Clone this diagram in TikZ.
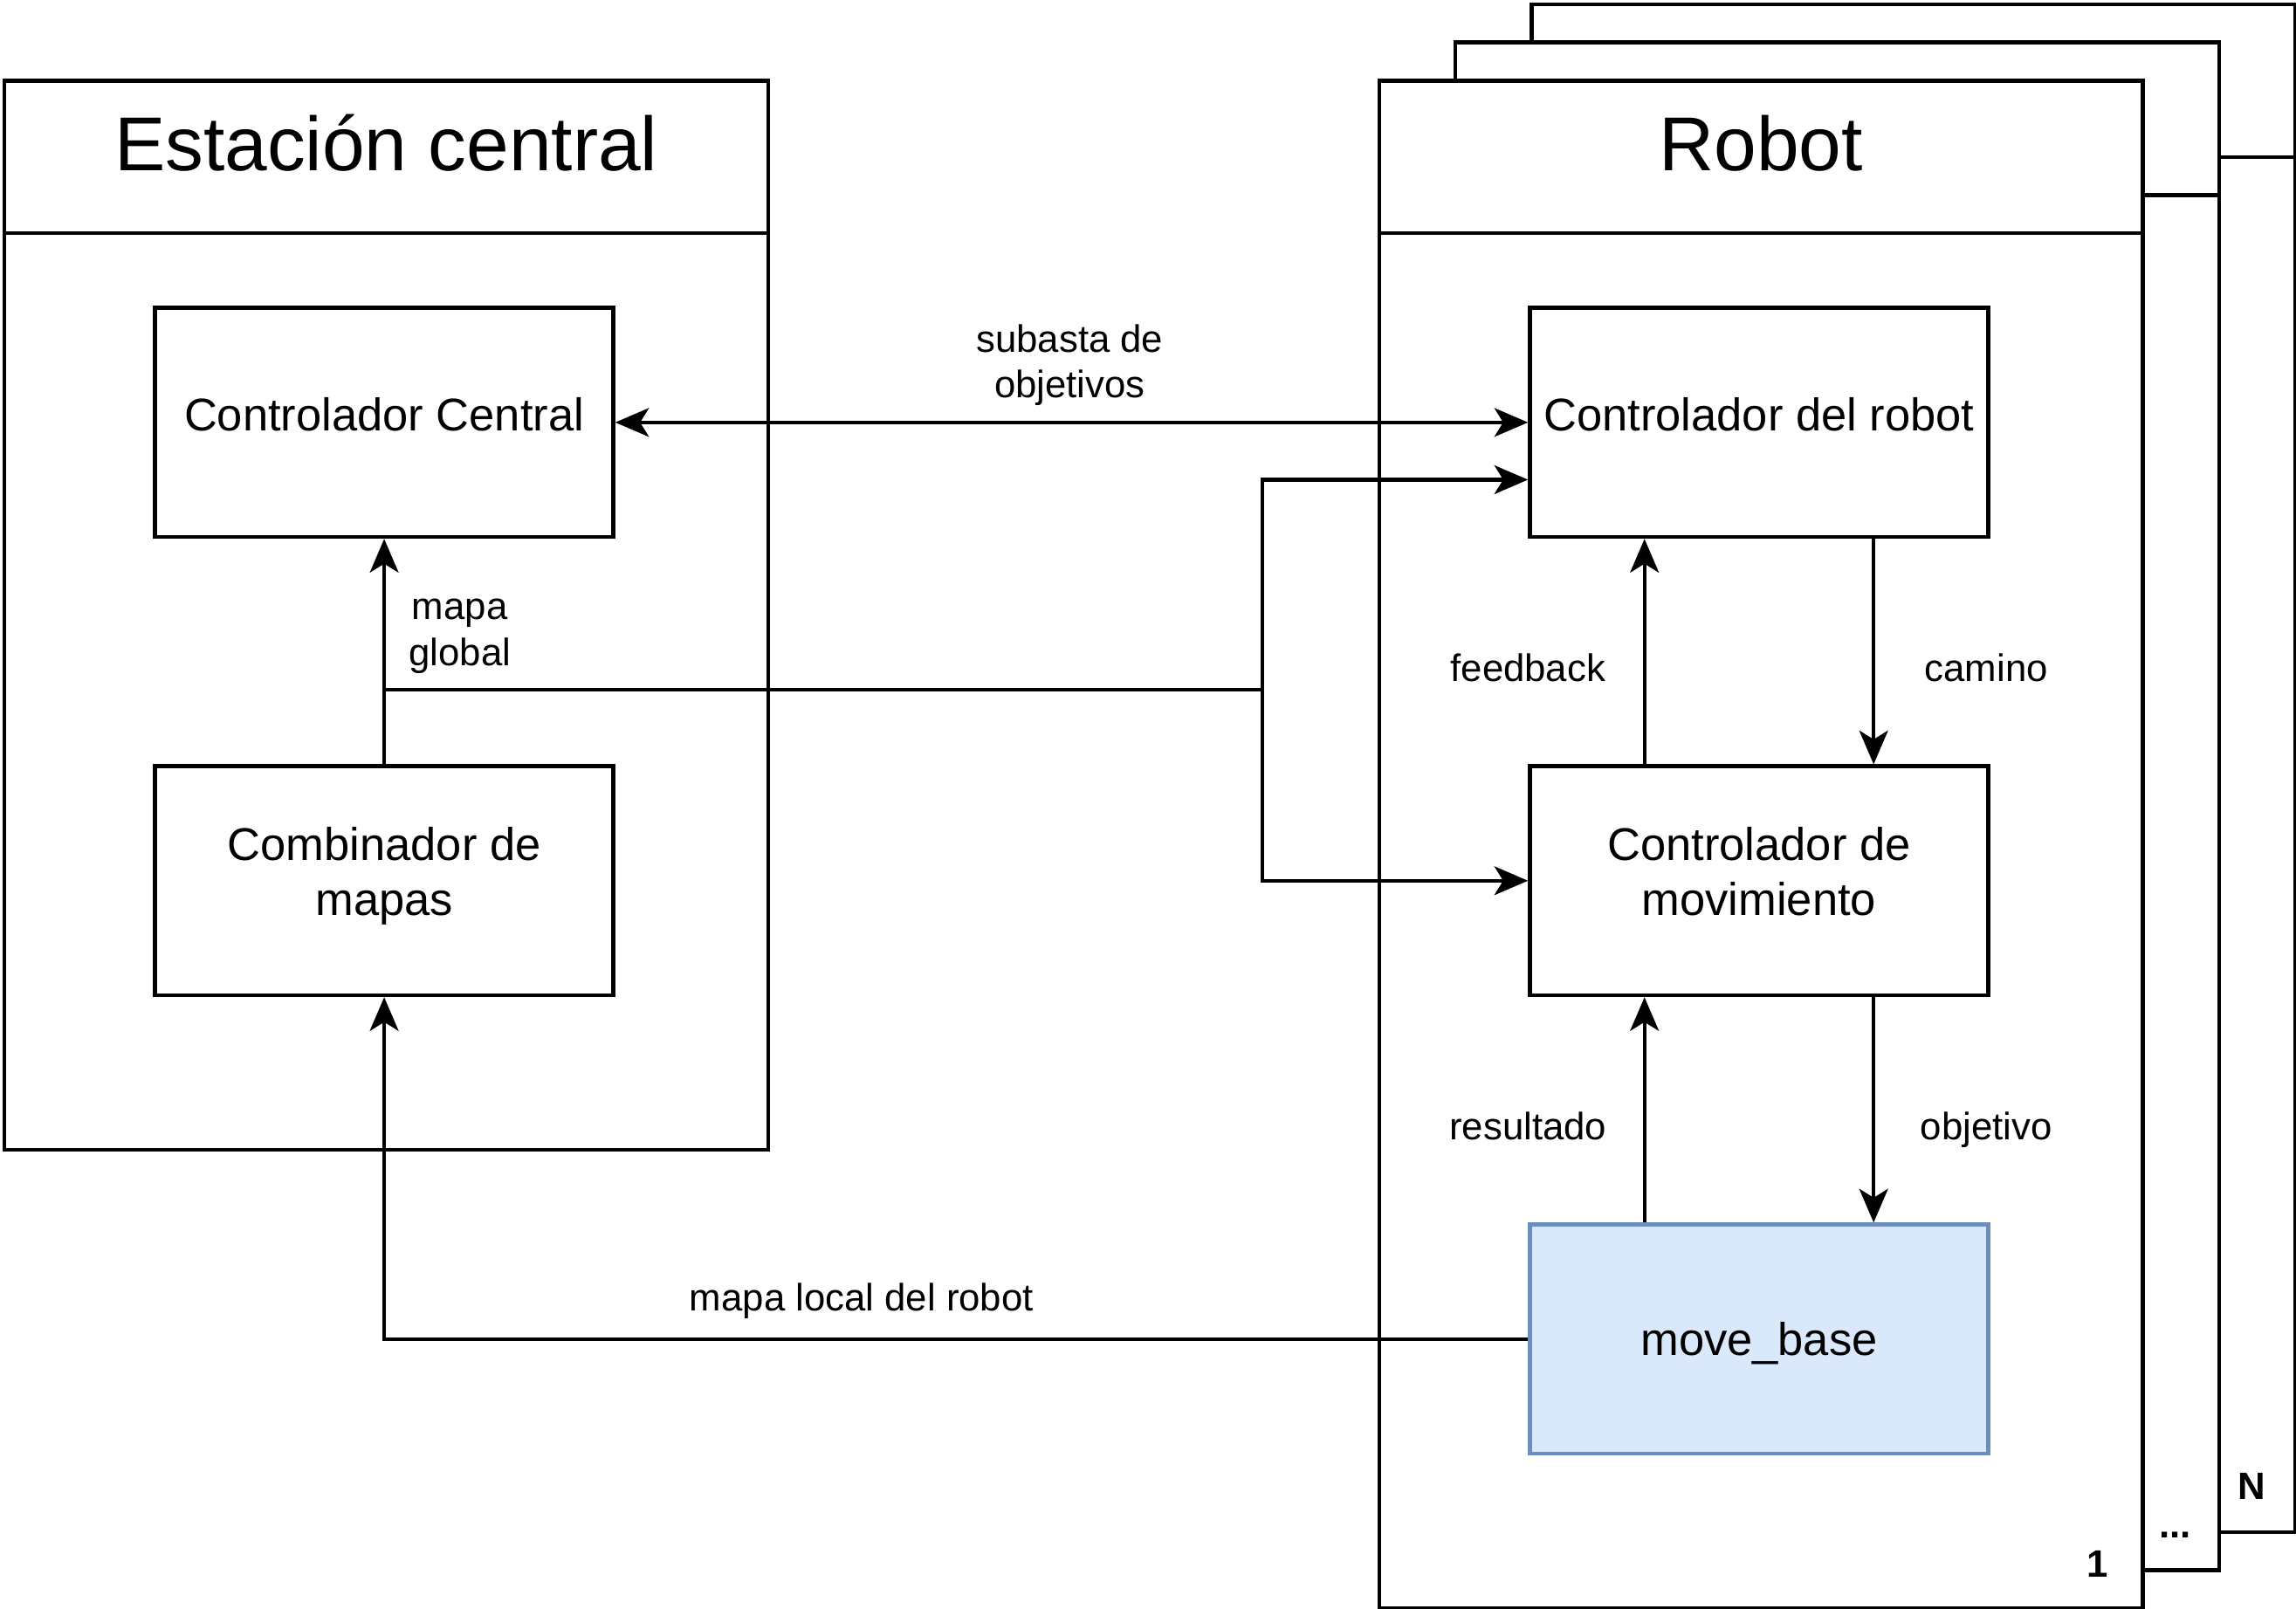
\documentclass[tikz,border=0pt]{standalone}
\usepackage{fontspec}
\setmainfont{Liberation Sans}
\usetikzlibrary{arrows.meta,positioning}
\newcommand{\dstrut}{\rule[-0.42em]{0pt}{1.2em}}
\tikzset{
    block/.style={
           rectangle,
           draw=black,
           fill=white,
           minimum width=120pt,
           minimum height=60pt,
           inner sep=0pt,
           align=center,
           font=\fontsize{12}{14.4}\selectfont,
           execute at begin node=\dstrut,
           execute at end node=\dstrut,
           },
    pool/.style={
           rectangle,
           draw=black,
           fill=white,
           minimum width=200pt,
           inner sep=0pt,
           },
    pooltitle/.style={
           pool,
           minimum height=40pt,
           text height=0.72em,
           text depth=0pt,
           font=\fontsize{20}{24}\selectfont,
           },
    lbl/.style={
           align=center,
           inner sep=0pt,
           font=\fontsize{10}{12}\selectfont,
           execute at begin node=\dstrut,
           execute at end node=\dstrut,
           },
    tag/.style={inner sep=0pt, font=\fontsize{10}{12}\selectfont\bfseries},
}

\begin{document}
\begin{tikzpicture}[x=1pt,y=1pt,line width=1pt,
    >={Stealth[length=8.8pt,width=7.5pt,inset=2.3pt]}]
\useasboundingbox (-0.6,0.6) rectangle (600.6,-420.6);

% robots N ... 1, back to front
\node[pool,minimum height=400pt,anchor=north west](robotN) at (400,0) {};
\node[pooltitle,anchor=north](robotNtitle) at (robotN.north) {};
\node[tag](tagN) at (589,-388.6) {N};
\node[pool,minimum height=400pt,anchor=north west](robotM) at (380,-10) {};
\node[pooltitle,anchor=north](robotMtitle) at (robotM.north) {};
\node[tag](tagM) at (569,-401.3) {...};
\node[pool,minimum height=400pt,anchor=north west](robot) at (360,-20) {};
\node[pooltitle,anchor=north](robottitle) at (robot.north) {Robot};
\node[tag](tag1) at (548.6,-408.8) {1};

% central station
\node[pool,minimum height=280pt,anchor=north west](station) at (0,-20) {};
\node[pooltitle,anchor=north](stationtitle) at (station.north) {Estación central};

\node[block](central) at (100,-110) {Controlador Central};
\node[block,below of=central,node distance=120pt](combinador) {Combinador de\\mapas};
\node[block,right of=central,node distance=360pt](robotctl) {Controlador del robot};
\node[block,below of=robotctl,node distance=120pt](movctl) {Controlador de\\movimiento};
\node[block,below of=movctl,node distance=120pt,text height=0.86em,text depth=0pt,
      fill={rgb,255:red,218;green,232;blue,252},
      draw={rgb,255:red,108;green,142;blue,191}](movebase) {move\_base};

\coordinate (split) at (330,-180);

\draw[<->] (central.east) -- (robotctl.west);
\node[lbl](subasta) at (279.5,-96.1) {subasta de\\objetivos};
\draw[->] (combinador.north) -- (central.south);
\node[lbl](global) at (119.8,-167) {mapa\\global};
\draw[->] (combinador.north) |- (split) |- ([yshift=-15pt]robotctl.west);
\draw[->] (split) |- (movctl.west);
\draw[->] ([xshift=-30pt]movctl.north) -- ([xshift=-30pt]robotctl.south);
\node[lbl](feedback) at (399.5,-176) {feedback};
\draw[->] ([xshift=30pt]robotctl.south) -- ([xshift=30pt]movctl.north);
\node[lbl](camino) at (519.5,-176) {camino};
\draw[->] ([xshift=-30pt]movebase.north) -- ([xshift=-30pt]movctl.south);
\node[lbl](resultado) at (399.5,-296) {resultado};
\draw[->] ([xshift=30pt]movctl.south) -- ([xshift=30pt]movebase.north);
\node[lbl](objetivo) at (519.5,-296) {objetivo};
\draw[->] (movebase.west) -| (combinador.south);
\node[lbl](local) at (225,-340.8) {mapa local del robot};
\end{tikzpicture}
\end{document}
